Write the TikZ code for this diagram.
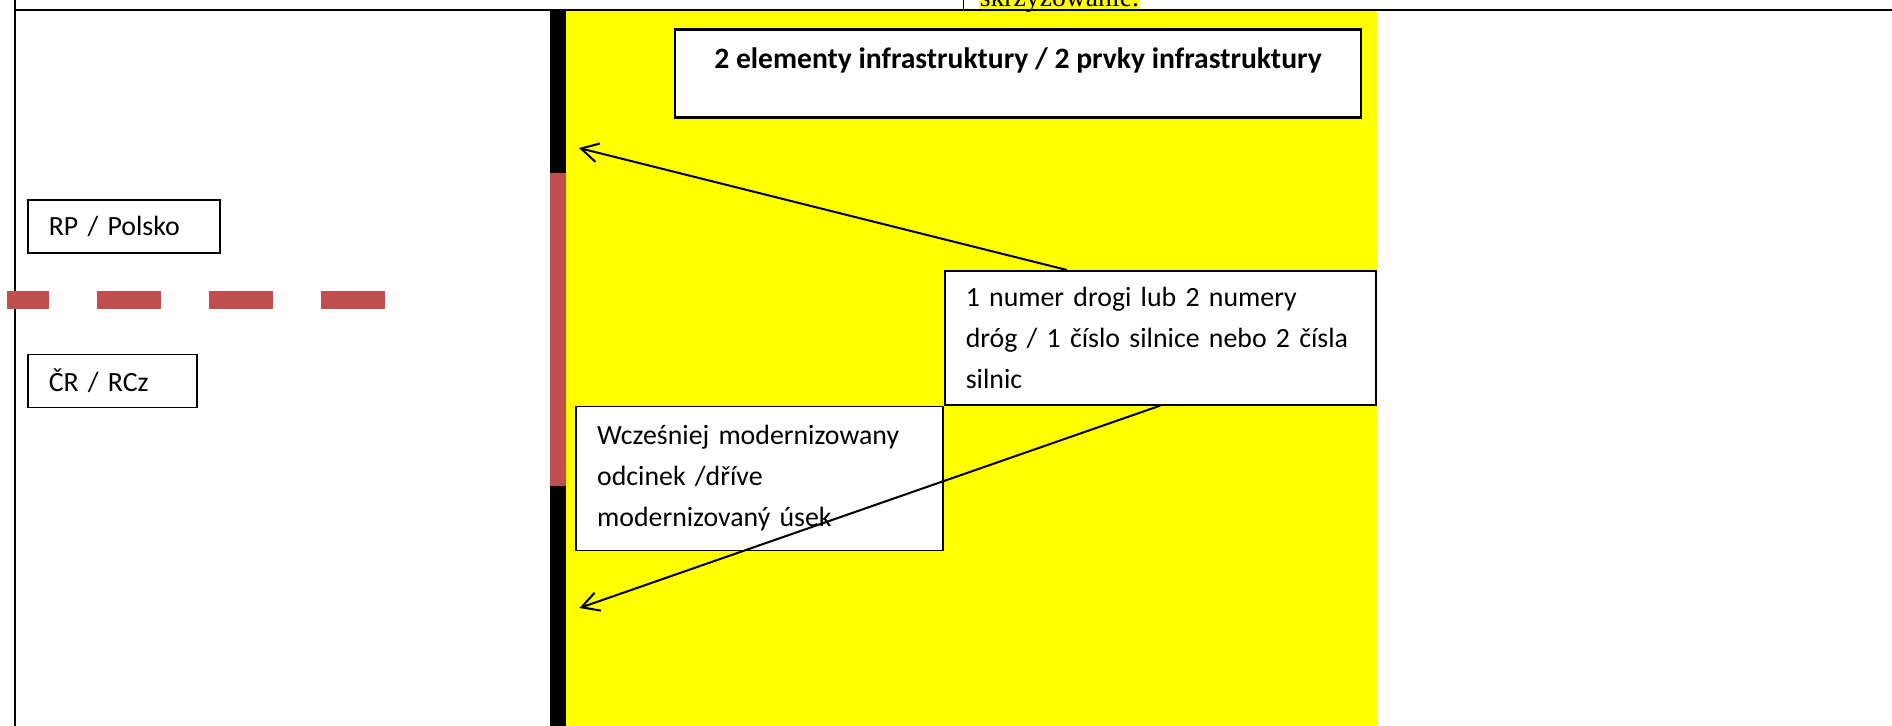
\documentclass[11pt,tikz,border=0pt]{standalone}
\usepackage{fontspec}
\setmainfont{Carlito}
\newfontfamily\cellfont{Liberation Serif}
\usetikzlibrary{positioning}
\usetikzlibrary{arrows.meta}

\definecolor{markyellow}{RGB}{255,255,0}
\definecolor{borderred}{RGB}{192,80,77}

\tikzset{
	tbox/.style={draw, fill=white, line width=0.6pt, inner xsep=8.3pt, align=left, font=\fontsize{11}{16.2}\selectfont},
	link/.style={draw, ->, line width=0.8pt}
}

\begin{document}
\begin{tikzpicture}[x=0.3953pt, y=-0.3953pt, >={Straight Barb[length=6.8pt,width=7.5pt]}]
	\useasboundingbox (0,0) rectangle (1892,726);

	\fill[markyellow] (566,10) rectangle (1377,726);
	\fill[black] (550,10) rectangle (566,726);
	\fill[borderred] (550,173) rectangle (566,486);

	\node (cut) [anchor=base west, fill=markyellow, inner xsep=0.5pt, inner ysep=0pt, text depth=1pt, font=\cellfont] at (978,6.5) {skrzyżowanie.};
	\draw[line width=0.8pt] (15,0) -- (15,726);
	\draw[line width=0.8pt] (15,10) -- (1892,10);
	\draw[line width=0.4pt] (963,0) -- (963,10);
	\draw[borderred, line width=7.1pt, dash pattern=on 25.3pt off 19pt, dash phase=8.5pt] (6.5,300) -- (385,300);

	\node (title) [draw, fill=white, line width=1pt, minimum width=271.2pt, inner ysep=0pt, text height=15.4pt, text depth=19.4pt, anchor=north, font=\fontsize{11.7}{14}\selectfont\bfseries] at (1018,28) {2 elementy infrastruktury / 2 prvky infrastruktury};

	\node (pl) [tbox, anchor=north west, text width=59.3pt, minimum height=21pt] at (27,199) {RP / Polsko};
	\node (cz) [tbox, text width=50.2pt, minimum height=21pt, below=39.5pt of pl.south west, anchor=north west] {ČR / RCz};

	\node (num) [tbox, anchor=north west, text width=153.8pt, minimum height=53pt] at (944,270) {1 numer drogi lub 2 numery\\dróg / 1 číslo silnice nebo 2 čísla\\silnic};
	\node (wcz) [tbox, anchor=north east, text width=128.5pt, minimum height=56.9pt] at (num.south west) {Wcześniej modernizowany\\odcinek /dříve\\modernizovaný úsek};

	\coordinate (tipA) at (579,148);
	\coordinate (tipB) at (579.5,608);
	\path [link] (num.144) -- (tipA);
	\path [link] (num.south) -- (tipB);
\end{tikzpicture}
\end{document}
